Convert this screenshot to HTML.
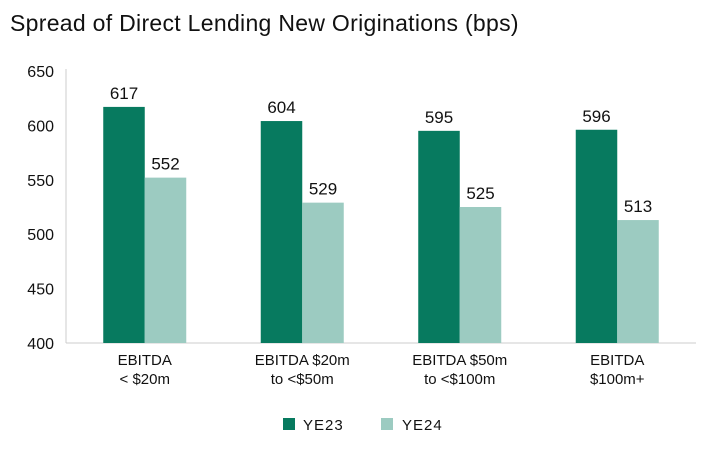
<!DOCTYPE html>
<html><head><meta charset="utf-8"><style>
body{margin:0;background:#fff;font-family:"Liberation Sans",sans-serif;}
svg text{font-family:"Liberation Sans",sans-serif;}
</style></head><body>
<svg width="718" height="454">
<text x="10" y="31" font-size="23" letter-spacing="0.3" fill="#111">Spread of Direct Lending New Originations (bps)</text>
<g id="yaxis"></g>
<g id="bars"></g>
<g id="xlabels"></g>
<g>
<rect x="283" y="418" width="12" height="12" fill="#077a5f"/>
<text x="303" y="430" font-size="15" letter-spacing="1" fill="#111">YE23</text>
<rect x="381" y="418" width="12" height="12" fill="#9ccbc1"/>
<text x="402" y="430" font-size="15" letter-spacing="1" fill="#111">YE24</text>
</g>
</svg>
<script>
const categories=[["EBITDA","< $20m"],["EBITDA $20m","to <$50m"],["EBITDA $50m","to <$100m"],["EBITDA","$100m+"]];
const ye23=[617,604,595,596];
const ye24=[552,529,525,513];
const yTicks=[400,450,500,550,600,650];
const NS="http://www.w3.org/2000/svg";
const L=66,R=696,T=71,B=343,ymin=400,ymax=650;
const y=v=>B-(v-ymin)/(ymax-ymin)*(B-T);
const gw=(R-L)/categories.length, bw=41.5;
function mk(tag,attrs,parent,txt){const e=document.createElementNS(NS,tag);for(const k in attrs)e.setAttribute(k,attrs[k]);if(txt!==undefined)e.textContent=txt;parent.appendChild(e);return e;}
const ya=document.getElementById('yaxis'),bg=document.getElementById('bars'),xl=document.getElementById('xlabels');
yTicks.forEach(t=>{const e=mk('text',{x:54,y:y(t)+6,'font-size':16,'text-anchor':'end',fill:'#111'},ya,t);

});
const ax=mk('line',{x1:L,y1:T-2,x2:L,y2:B,stroke:'#ccc','stroke-width':1},ya);


const bx=mk('line',{x1:L,y1:B,x2:R,y2:B,stroke:'#ccc','stroke-width':1},ya);


categories.forEach((c,i)=>{
 const cx=L+gw*(i+0.5);
 [[ye23[i],'#077a5f',cx-bw,'ye23'],[ye24[i],'#9ccbc1',cx,'ye24']].forEach(([v,col,x0,s])=>{
  const r=mk('rect',{x:x0,y:y(v),width:bw,height:B-y(v),fill:col},bg);
  
  
  const t=mk('text',{x:x0+bw/2,y:y(v)-8,'font-size':17,'text-anchor':'middle',fill:'#111'},bg,v);
  
  
 });
 c.forEach((line,j)=>{const t=mk('text',{x:cx,y:365+j*19,'font-size':15,'text-anchor':'middle',fill:'#111'},xl,line);
  
  });
});
</script>
</body></html>
